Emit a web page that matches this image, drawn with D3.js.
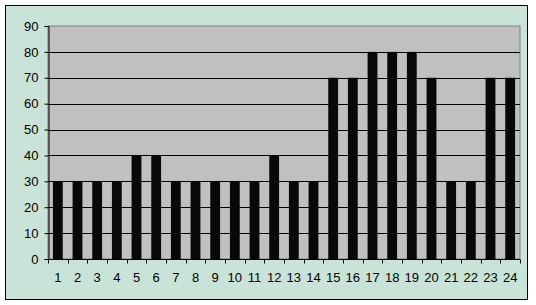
<!DOCTYPE html>
<html>
<head>
<meta charset="utf-8">
<script src="https://d3js.org/d3.v7.min.js"></script>
<style>
  body { margin: 0; background: #fff; }
  svg { display: block; font-family: "Liberation Sans", Arial, sans-serif; }
</style>
</head>
<body>
<div id="chart"></div>
<script>
const categories = d3.range(1, 25).map(String);
const values = [30, 30, 30, 30, 40, 40, 30, 30, 30, 30, 30, 40, 30, 30, 70, 70, 80, 80, 80, 70, 30, 30, 70, 70];
const yTicks = [0, 10, 20, 30, 40, 50, 60, 70, 80, 90];

const W = 536, H = 305;
const plot = {left: 48, top: 26, right: 520, bottom: 259};

const svg = d3.select("#chart").append("svg")
    .attr("width", W).attr("height", H);

// outer frame
svg.append("rect")
    .attr("x", 5.5).attr("y", 5.5)
    .attr("width", 522).attr("height", 294)
    .attr("fill", "#cae3d9").attr("stroke", "#000").attr("stroke-width", 1);

const x = d3.scaleBand().domain(categories)
    .range([plot.left, plot.right]).paddingInner(0.5).paddingOuter(0.25);
const y = d3.scaleLinear().domain([0, 90]).range([plot.bottom, plot.top]);

// plot area
svg.append("rect")
    .attr("x", plot.left).attr("y", plot.top)
    .attr("width", plot.right - plot.left).attr("height", plot.bottom - plot.top)
    .attr("fill", "#c0c0c0").attr("stroke", "#808080").attr("stroke-width", 1);

// gridlines
svg.append("g").selectAll("line")
    .data(yTicks.filter(d => d > 0 && d < 90))
    .join("line")
    .attr("x1", plot.left).attr("x2", plot.right)
    .attr("y1", d => Math.round(y(d)) + 0.5).attr("y2", d => Math.round(y(d)) + 0.5)
    .attr("stroke", "#000");

// bars
svg.append("g").selectAll("rect")
    .data(values)
    .join("rect")
    .attr("x", (d, i) => x(categories[i]))
    .attr("y", d => y(d))
    .attr("width", x.bandwidth())
    .attr("height", d => y(0) - y(d))
    .attr("fill", "#080808");

// y axis
const yAxis = d3.axisLeft(y).tickValues(yTicks).tickSize(4).tickPadding(6);
const gy = svg.append("g")
    .attr("transform", `translate(${plot.left + 0.5},0)`)
    .call(yAxis);
gy.select(".domain").attr("stroke", "#000");
gy.selectAll("text").attr("font-size", 13).attr("fill", "#000")
    .attr("font-family", "Liberation Sans, Arial, sans-serif");

// x axis
const step = (plot.right - plot.left) / categories.length;
const gx = svg.append("g")
    .attr("transform", `translate(0,${plot.bottom + 0.5})`);
gx.append("line").attr("x1", plot.left).attr("x2", plot.right).attr("stroke", "#000");
gx.selectAll("line.tick")
    .data(d3.range(categories.length + 1))
    .join("line").attr("class", "tick")
    .attr("x1", i => Math.round(plot.left + i * step) + 0.5)
    .attr("x2", i => Math.round(plot.left + i * step) + 0.5)
    .attr("y1", 0).attr("y2", 4).attr("stroke", "#000");
gx.selectAll("text")
    .data(categories)
    .join("text")
    .attr("x", d => x(d) + x.bandwidth() / 2)
    .attr("y", 22)
    .attr("text-anchor", "middle")
    .attr("font-size", 13)
    .attr("fill", "#000")
    .text(d => d);
</script>
</body>
</html>
